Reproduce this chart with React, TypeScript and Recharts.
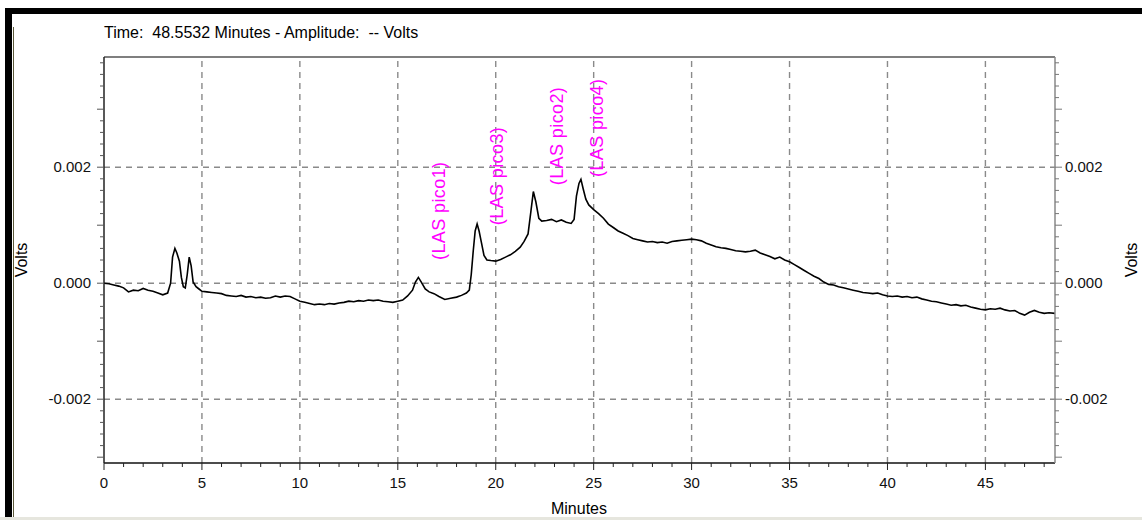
import React from 'react';
import { LineChart, Line, XAxis, YAxis, ReferenceLine, ReferenceDot } from 'recharts';

// detector trace (minutes / millivolts)
const minutes = [
  0, 0.25, 0.5, 0.75, 1.0, 1.25, 1.5, 1.75, 2.0, 2.25,
  2.5, 2.75, 3.0, 3.25, 3.4, 3.5, 3.62, 3.72, 3.85, 3.95,
  4.05, 4.15, 4.25, 4.35, 4.45, 4.55, 4.7, 4.85, 5.0, 5.25,
  5.5, 5.75, 6.0, 6.25, 6.5, 6.75, 7.0, 7.25, 7.5, 7.75,
  8.0, 8.25, 8.5, 8.75, 9.0, 9.25, 9.5, 9.75, 10.0, 10.25,
  10.5, 10.75, 11.0, 11.25, 11.5, 11.75, 12.0, 12.25, 12.5, 12.75,
  13.0, 13.25, 13.5, 13.75, 14.0, 14.25, 14.5, 14.75, 15.0, 15.25,
  15.5, 15.75, 15.9, 16.05, 16.2, 16.4, 16.6, 16.85, 17.1, 17.4,
  17.7, 18.0, 18.25, 18.5, 18.65, 18.75, 18.85, 18.95, 19.05, 19.15,
  19.27, 19.4, 19.55, 19.75, 20.0, 20.25, 20.5, 20.75, 21.0, 21.25,
  21.45, 21.65, 21.8, 21.92, 22.05, 22.2, 22.35, 22.6, 22.85, 23.1,
  23.35, 23.6, 23.85, 24.0, 24.12, 24.25, 24.35, 24.47, 24.6, 24.75,
  25.0, 25.25, 25.5, 25.75, 26.0, 26.25, 26.5, 26.75, 27.0, 27.25,
  27.5, 27.75, 28.0, 28.25, 28.5, 28.75, 29.0, 29.25, 29.5, 29.75,
  30.0, 30.25, 30.5, 30.75, 31.0, 31.25, 31.5, 31.75, 32.0, 32.25,
  32.5, 32.75, 33.0, 33.25, 33.5, 33.75, 34.0, 34.25, 34.5, 34.75,
  35.0, 35.25, 35.5, 35.75, 36.0, 36.25, 36.5, 36.75, 37.0, 37.25,
  37.5, 37.75, 38.0, 38.25, 38.5, 38.75, 39.0, 39.25, 39.5, 39.75,
  40.0, 40.25, 40.5, 40.75, 41.0, 41.25, 41.5, 41.75, 42.0, 42.25,
  42.5, 42.75, 43.0, 43.25, 43.5, 43.75, 44.0, 44.25, 44.5, 44.75,
  45.0, 45.25, 45.5, 45.75, 46.0, 46.25, 46.5, 46.75, 47.0, 47.25,
  47.5, 47.75, 48.0, 48.25, 48.55,
];

const signalMv = [
  0.0, -0.01, -0.03, -0.05, -0.08, -0.15, -0.12, -0.13, -0.09, -0.12,
  -0.14, -0.17, -0.2, -0.17, 0.0, 0.45, 0.6, 0.52, 0.38, 0.1,
  -0.06, -0.08, 0.15, 0.45, 0.3, 0.02, -0.06, -0.1, -0.14, -0.15,
  -0.16, -0.17, -0.18, -0.21, -0.22, -0.23, -0.21, -0.24, -0.23, -0.25,
  -0.24, -0.26, -0.25, -0.22, -0.24, -0.22, -0.23, -0.27, -0.31, -0.33,
  -0.35, -0.37, -0.36, -0.37, -0.35, -0.36, -0.34, -0.33, -0.31, -0.32,
  -0.3, -0.31, -0.29, -0.3, -0.29, -0.31, -0.32, -0.33, -0.31, -0.29,
  -0.22, -0.12, 0.02, 0.1, 0.02, -0.1, -0.15, -0.18, -0.23, -0.28,
  -0.26, -0.24, -0.21, -0.17, -0.12, 0.15, 0.55, 0.9, 1.02, 0.9,
  0.7, 0.48, 0.4, 0.39, 0.38, 0.41, 0.45, 0.49, 0.55, 0.62,
  0.72, 0.85, 1.25, 1.58, 1.4, 1.12, 1.07, 1.08, 1.1, 1.06,
  1.09, 1.05, 1.03, 1.1, 1.5, 1.72, 1.79, 1.62, 1.45, 1.35,
  1.27, 1.2, 1.12, 1.02, 0.96, 0.9, 0.86, 0.82, 0.77, 0.75,
  0.73, 0.71, 0.72, 0.7, 0.71, 0.69, 0.72, 0.73, 0.74, 0.75,
  0.76, 0.75, 0.73, 0.69, 0.66, 0.63, 0.61, 0.6, 0.58, 0.56,
  0.55, 0.54, 0.55, 0.57, 0.52, 0.49, 0.46, 0.42, 0.45, 0.4,
  0.37, 0.32, 0.27, 0.22, 0.17, 0.12, 0.08, 0.02, -0.02, -0.03,
  -0.06, -0.08, -0.1, -0.12, -0.14, -0.16, -0.17, -0.18, -0.17, -0.2,
  -0.22, -0.23, -0.22, -0.24, -0.23, -0.25, -0.24, -0.27, -0.29, -0.31,
  -0.32, -0.34, -0.36, -0.38, -0.37, -0.39, -0.38, -0.41, -0.43, -0.45,
  -0.46, -0.44, -0.45, -0.43, -0.46, -0.48, -0.47, -0.52, -0.55, -0.5,
  -0.47, -0.5, -0.52, -0.51, -0.52,
];

const peakNames = ['(LAS pico1)', '(LAS pico3)', '(LAS pico2)', '(LAS pico4)'];
const peakLabelMinutes = [17.11, 20.07, 23.14, 25.18];
const peakLabelMv = [0.4, 1.0, 1.69, 1.83];

const xGridMinutes = [5, 10, 15, 20, 25, 30, 35, 40, 45];
const yGridVolts = [-0.002, 0, 0.002];
const runEndMinutes = 48.5532;
const yDomain: [number, number] = [-0.0031, 0.0039];

const xTicks = Array.from({ length: 49 }, (_, i) => i);
const yTicks = Array.from({ length: 35 }, (_, i) => (i - 15) * 0.0002);

const FONT = '"Liberation Sans", Arial, sans-serif';

const chartData = minutes.map((t, i) => ({ t, v: signalMv[i] / 1000 }));

const voltLabel = (v: number) => {
  const k = Math.round(v * 1000);
  return k === 0 ? '0.000' : (k / 1000).toFixed(3);
};

const tickUnits = (v: number) => Math.round(v * 10000);

const LeftTick = (props: any) => {
  const { x, y, payload } = props;
  const k = tickUnits(payload.value);
  const len = k % 10 === 0 ? 7 : 4;
  return (
    <g>
      <line x1={x - len} x2={x} y1={y} y2={y} stroke="#555" />
      {k % 20 === 0 && (
        <text x={x - 13} y={y} dy="0.35em" textAnchor="end" fontSize={15} fontFamily={FONT} fill="#111">
          {voltLabel(payload.value)}
        </text>
      )}
    </g>
  );
};

const RightTick = (props: any) => {
  const { x, y, payload } = props;
  const k = tickUnits(payload.value);
  const len = k % 10 === 0 ? 7 : 4;
  return (
    <g>
      <line x1={x} x2={x + len} y1={y} y2={y} stroke="#777" />
      {k % 20 === 0 && (
        <text x={x + 10} y={y} dy="0.35em" textAnchor="start" fontSize={15} fontFamily={FONT} fill="#111">
          {voltLabel(payload.value)}
        </text>
      )}
    </g>
  );
};

const BottomTick = (props: any) => {
  const { x, y, payload } = props;
  const major = payload.value % 5 === 0;
  return (
    <g>
      <line x1={x} x2={x} y1={y} y2={y + (major ? 7 : 4)} stroke="#222" />
      {major && (
        <text x={x} y={y + 25} textAnchor="middle" fontSize={15} fontFamily={FONT} fill="#111">
          {payload.value}
        </text>
      )}
    </g>
  );
};

const PeakLabel = (name: string) => (p: any) => (
  <text
    x={p.cx}
    y={p.cy}
    transform={`rotate(-90 ${p.cx} ${p.cy})`}
    textAnchor="start"
    dominantBaseline="central"
    fontSize={18}
    letterSpacing={0.4}
    fontFamily={FONT}
    fill="#ff00ff"
  >
    {name}
  </text>
);

const abs = (s: React.CSSProperties): React.CSSProperties => ({ position: 'absolute', ...s });

export default function App() {
  return (
    <div style={abs({ left: 0, top: 0, width: 1142, height: 520, background: '#fff', overflow: 'hidden', fontFamily: FONT })}>
      <div style={abs({ left: 5, top: 8, width: 1137, height: 6, background: '#000' })} />
      <div style={abs({ left: 5, top: 8, width: 7, height: 512, background: '#000' })} />
      <div style={abs({ left: 13, top: 27, width: 1, height: 493, background: '#5c5a3a' })} />
      <div style={abs({ left: 0, top: 517, width: 1142, height: 3, background: '#e6e6de' })} />

      <div style={abs({ left: 104, top: 24, fontSize: 16, whiteSpace: 'pre', color: '#000', lineHeight: '18px' })}>
        {'Time:  48.5532 Minutes - Amplitude:  -- Volts'}
      </div>
      <div style={abs({ left: 22, top: 260, fontSize: 16, color: '#000', transform: 'translate(-50%, -50%) rotate(-90deg)' })}>
        Volts
      </div>
      <div style={abs({ left: 1132, top: 260, fontSize: 16, color: '#000', transform: 'translate(-50%, -50%) rotate(-90deg)' })}>
        Volts
      </div>
      <div style={abs({ left: 579, top: 509, fontSize: 16, color: '#000', transform: 'translate(-50%, -50%)' })}>
        Minutes
      </div>

      <div style={abs({ left: 0, top: 0 })}>
        <LineChart width={1142} height={520} data={chartData} margin={{ top: 57, right: 0, bottom: 0, left: 0 }}>
          <XAxis
            dataKey="t"
            type="number"
            domain={[0, runEndMinutes]}
            allowDataOverflow
            ticks={xTicks}
            interval={0}
            height={57}
            tickSize={0}
            tickMargin={0}
            tickLine={false}
            tick={<BottomTick />}
            axisLine={{ stroke: '#111', strokeWidth: 1.5 }}
          />
          <YAxis
            yAxisId="left"
            type="number"
            domain={yDomain}
            allowDataOverflow
            ticks={yTicks}
            interval={0}
            width={104}
            tickSize={0}
            tickMargin={0}
            tickLine={false}
            tick={<LeftTick />}
            axisLine={{ stroke: '#222', strokeWidth: 1.5 }}
          />
          <YAxis
            yAxisId="right"
            orientation="right"
            type="number"
            domain={yDomain}
            allowDataOverflow
            ticks={yTicks}
            interval={0}
            width={87}
            tickSize={0}
            tickMargin={0}
            tickLine={false}
            tick={<RightTick />}
            axisLine={{ stroke: '#888', strokeWidth: 1.5 }}
          />
          {xGridMinutes.map((m) => (
            <ReferenceLine key={`vx${m}`} x={m} yAxisId="left" stroke="#8a8a8a" strokeWidth={1.4} strokeDasharray="6 5" />
          ))}
          {yGridVolts.map((v) => (
            <ReferenceLine key={`hy${v}`} y={v} yAxisId="left" stroke="#8a8a8a" strokeWidth={1.4} strokeDasharray="6 5" />
          ))}
          <ReferenceLine y={yDomain[1]} yAxisId="left" stroke="#555" strokeWidth={1.5} />
          <Line
            yAxisId="left"
            dataKey="v"
            type="linear"
            stroke="#000"
            strokeWidth={1.6}
            dot={false}
            isAnimationActive={false}
          />
          {peakNames.map((name, i) => (
            <ReferenceDot
              key={name}
              yAxisId="left"
              x={peakLabelMinutes[i]}
              y={peakLabelMv[i] / 1000}
              r={0}
              shape={PeakLabel(name)}
            />
          ))}
        </LineChart>
      </div>
    </div>
  );
}
